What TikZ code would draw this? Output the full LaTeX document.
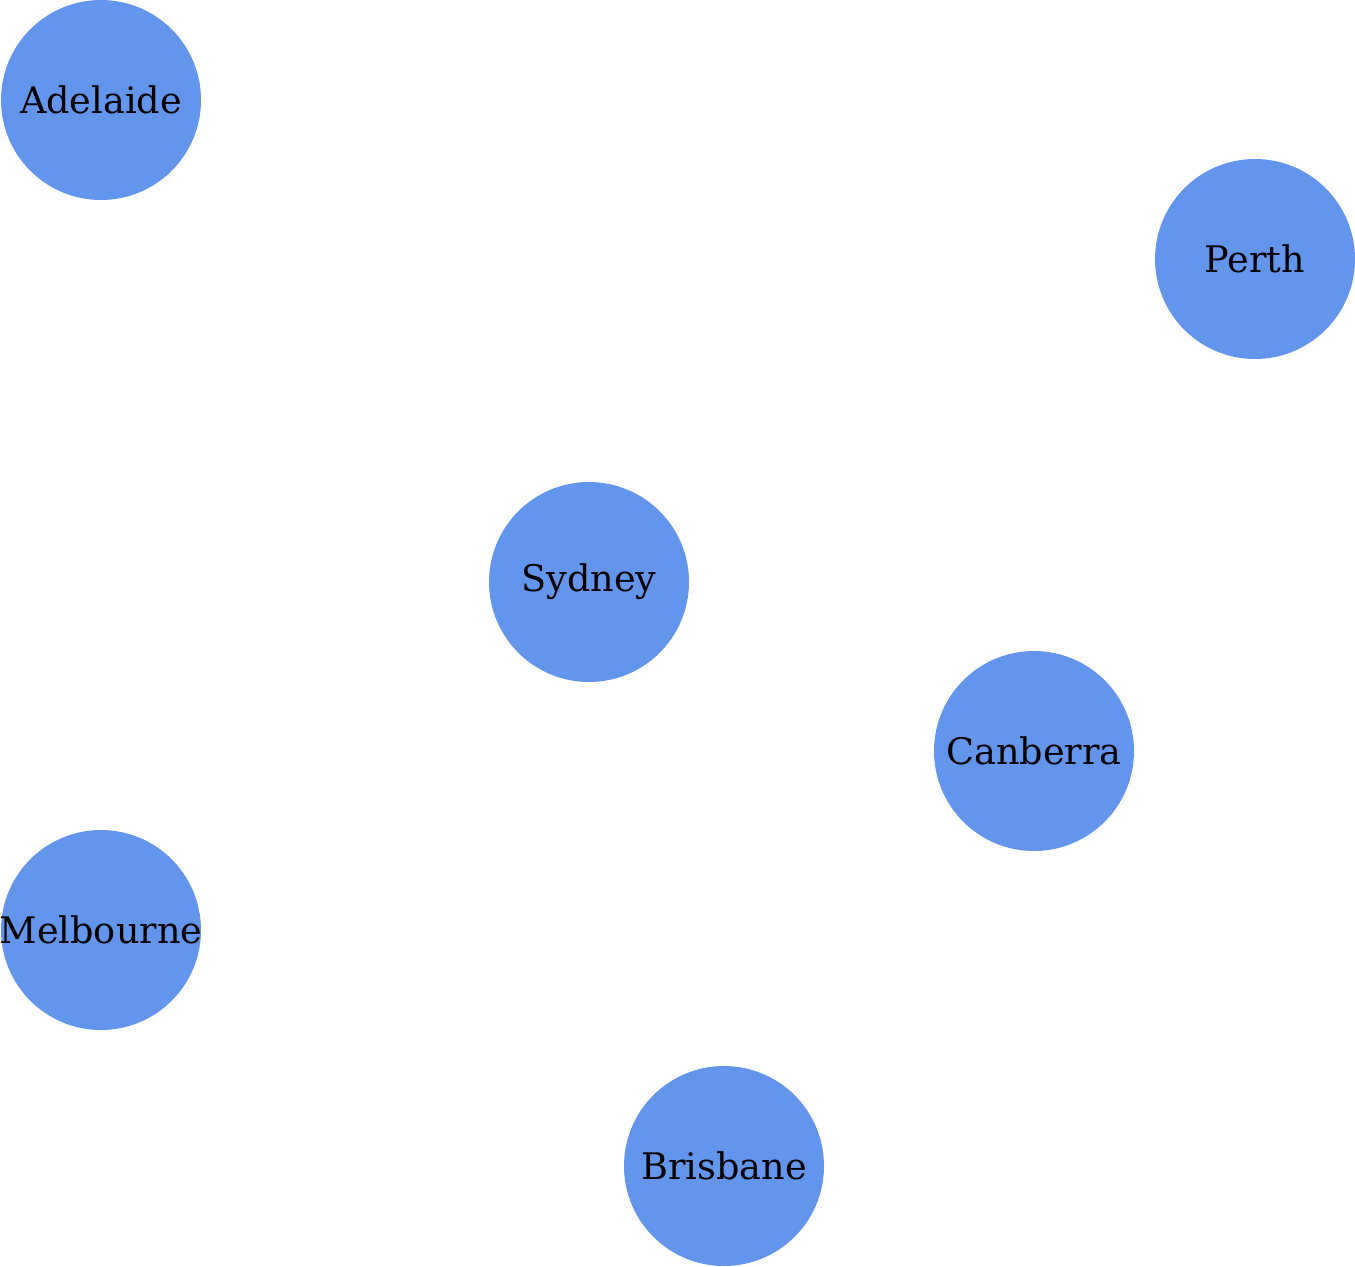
\documentclass[tikz,border=0pt]{standalone}
\usepackage{fontspec}
\setmainfont{DejaVu Serif}
\usetikzlibrary{arrows.meta}
\definecolor{cityblue}{RGB}{100,149,237}
\begin{document}
\begin{tikzpicture}[x=0.5pt,y=-0.5pt,
  city/.style={circle,fill=cityblue,minimum size=100pt,inner sep=-6pt,font=\fontsize{18.3}{21}\selectfont},
  link/.style={white,line width=1pt,-{Stealth[length=4pt,width=4pt]}}]
\useasboundingbox (0,0) rectangle (1355,1266);
\node[city] (adelaide) at (101,100) {Adelaide};
\node[city] (perth) at (1255,259) {Perth};
\node[city] (sydney) at (589,582) {Sydney};
\node[city] (canberra) at (1034,751) {Canberra};
\node[city] (melbourne) at (101,930) {Melbourne};
\node[city] (brisbane) at (724,1166) {Brisbane};
\draw[link] (adelaide) -- (sydney);
\draw[link] (melbourne) -- (adelaide);
\draw[link] (canberra) -- (sydney);
\draw[link] (melbourne) -- (canberra);
\draw[link] (sydney) -- (perth);
\draw[link] (melbourne) -- (brisbane);
\end{tikzpicture}
\end{document}
